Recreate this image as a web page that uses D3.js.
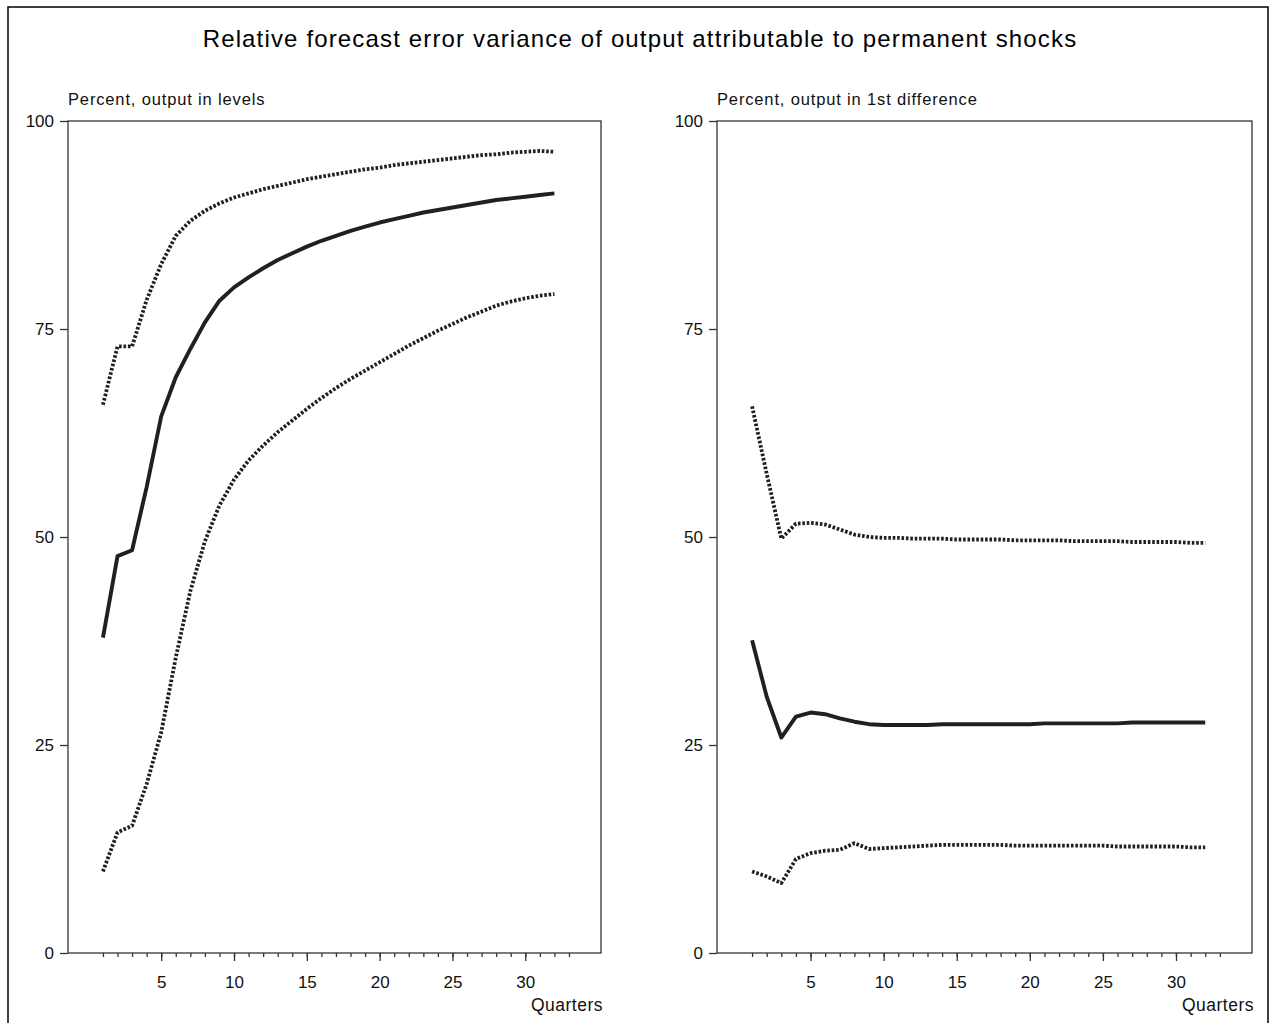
<!DOCTYPE html>
<html>
<head>
<meta charset="utf-8">
<script src="https://cdn.jsdelivr.net/npm/d3@7"></script>
<style>
  body { margin: 0; background: #fff; }
  svg { display: block; font-family: "Liberation Sans", Arial, sans-serif; }
</style>
</head>
<body>
<div id="chart"></div>
<script>
// quarters 1..32
let quarters = d3.range(1, 33);
let majorTicks = [5, 10, 15, 20, 25, 30];
let minorTicks = d3.range(1, 34);
let yTicks = [0, 25, 50, 75, 100];

// output in levels
let levelsMid = [37.9, 47.7, 48.4, 56.0, 64.5, 69.2, 72.6, 75.8, 78.4, 80.0,
    81.2, 82.3, 83.3, 84.1, 84.9, 85.6, 86.2, 86.8, 87.3, 87.8,
    88.2, 88.6, 89.0, 89.3, 89.6, 89.9, 90.2, 90.5, 90.7, 90.9, 91.1, 91.3];
let levelsUpper = [65.9, 72.9, 72.9, 78.5, 82.8, 86.2, 88.0, 89.2, 90.1, 90.8,
    91.3, 91.8, 92.2, 92.6, 93.0, 93.3, 93.6, 93.9, 94.2, 94.4,
    94.7, 94.9, 95.1, 95.3, 95.5, 95.7, 95.9, 96.0, 96.2, 96.3, 96.4, 96.3];
let levelsLower = [9.8, 14.5, 15.3, 20.3, 26.5, 35.5, 43.5, 49.5, 53.8, 56.9,
    59.2, 61.0, 62.6, 64.0, 65.4, 66.7, 67.9, 69.0, 70.0, 71.0,
    72.0, 73.0, 73.9, 74.8, 75.6, 76.4, 77.1, 77.8, 78.3, 78.7, 79.0, 79.2];

// output in 1st difference
let diffMid = [37.6, 30.8, 25.9, 28.4, 28.9, 28.7, 28.2, 27.8, 27.5, 27.4,
    27.4, 27.4, 27.4, 27.5, 27.5, 27.5, 27.5, 27.5, 27.5, 27.5,
    27.6, 27.6, 27.6, 27.6, 27.6, 27.6, 27.7, 27.7, 27.7, 27.7, 27.7, 27.7];
let diffUpper = [65.7, 57.6, 49.8, 51.6, 51.7, 51.5, 50.9, 50.3, 50.0, 49.9,
    49.9, 49.8, 49.8, 49.8, 49.7, 49.7, 49.7, 49.7, 49.6, 49.6,
    49.6, 49.6, 49.5, 49.5, 49.5, 49.5, 49.4, 49.4, 49.4, 49.4, 49.3, 49.3];
let diffLower = [9.8, 9.2, 8.4, 11.3, 12.0, 12.3, 12.4, 13.2, 12.5, 12.6,
    12.7, 12.8, 12.9, 13.0, 13.0, 13.0, 13.0, 13.0, 12.9, 12.9,
    12.9, 12.9, 12.9, 12.9, 12.9, 12.8, 12.8, 12.8, 12.8, 12.8, 12.7, 12.7];

let title = "Relative forecast error variance of output attributable to permanent shocks";

Panel = function(_svg, _left, _right, _subtitle, _series) {
    this.svg = _svg;
    this.left = _left;
    this.right = _right;
    this.subtitle = _subtitle;
    this.series = _series;
    this.initVis();
};

Panel.prototype.initVis = function() {
    let vis = this;
    vis.top = 121;
    vis.bottom = 953;

    vis.x = d3.scaleLinear().domain([-1.4, 35.2]).range([vis.left, vis.right]);
    vis.y = d3.scaleLinear().domain([0, 100]).range([vis.bottom, vis.top]);

    vis.g = vis.svg.append("g");

    vis.g.append("rect")
        .attr("x", vis.left).attr("y", vis.top)
        .attr("width", vis.right - vis.left)
        .attr("height", vis.bottom - vis.top)
        .attr("fill", "none")
        .attr("stroke", "#333")
        .attr("stroke-width", 1.3);

    vis.g.append("text")
        .attr("x", vis.left)
        .attr("y", 105)
        .attr("font-size", 16.5)
        .attr("letter-spacing", 0.85)
        .attr("fill", "#111")
        .text(vis.subtitle);

    // y axis
    let yAxis = d3.axisLeft(vis.y).tickValues(yTicks).tickSize(8).tickPadding(6);
    vis.g.append("g")
        .attr("transform", "translate(" + vis.left + ",0)")
        .call(yAxis)
        .call(g => g.select(".domain").remove())
        .call(g => g.selectAll("line").attr("stroke", "#333").attr("stroke-width", 1.3))
        .call(g => g.selectAll("text").attr("font-size", 17).attr("fill", "#111")
            .attr("font-family", "Liberation Sans, Arial, sans-serif"));

    // minor ticks every quarter
    let minorAxis = d3.axisBottom(vis.x).tickValues(minorTicks).tickSize(4).tickFormat("");
    vis.g.append("g")
        .attr("transform", "translate(0," + vis.bottom + ")")
        .call(minorAxis)
        .call(g => g.select(".domain").remove())
        .call(g => g.selectAll("line").attr("stroke", "#333").attr("stroke-width", 1.3));

    let majorAxis = d3.axisBottom(vis.x).tickValues(majorTicks).tickSize(8).tickPadding(15);
    vis.g.append("g")
        .attr("transform", "translate(0," + vis.bottom + ")")
        .call(majorAxis)
        .call(g => g.select(".domain").remove())
        .call(g => g.selectAll("line").attr("stroke", "#333").attr("stroke-width", 1.3))
        .call(g => g.selectAll("text").attr("font-size", 17).attr("fill", "#111")
            .attr("font-family", "Liberation Sans, Arial, sans-serif"));

    vis.g.append("text")
        .attr("x", vis.right + 2)
        .attr("y", 1011)
        .attr("text-anchor", "end")
        .attr("font-size", 17.5)
        .attr("letter-spacing", 0.5)
        .attr("fill", "#111")
        .text("Quarters");

    vis.updateVis();
};

Panel.prototype.updateVis = function() {
    let vis = this;

    let line = d3.line()
        .x((d, i) => vis.x(quarters[i]))
        .y(d => vis.y(d));

    vis.g.selectAll("path.series")
        .data(vis.series)
        .enter()
        .append("path")
        .attr("class", "series")
        .attr("d", d => line(d.values))
        .attr("fill", "none")
        .attr("stroke", "#231f20")
        .attr("stroke-width", d => d.dotted ? 3.8 : 3.9)
        .attr("stroke-dasharray", d => d.dotted ? "2.6,1.8" : null)
        .attr("stroke-linejoin", "round");
};

let svg = d3.select("#chart").append("svg")
    .attr("width", 1271)
    .attr("height", 1023);

svg.append("rect")
    .attr("x", 8).attr("y", 7)
    .attr("width", 1260).attr("height", 1040)
    .attr("fill", "none")
    .attr("stroke", "#000")
    .attr("stroke-width", 1.5);

svg.append("text")
    .attr("x", 640)
    .attr("y", 47)
    .attr("text-anchor", "middle")
    .attr("font-size", 24)
    .attr("letter-spacing", 1.15)
    .attr("fill", "#000")
    .text(title);

new Panel(svg, 68, 601, "Percent, output in levels", [
    { values: levelsUpper, dotted: true },
    { values: levelsMid, dotted: false },
    { values: levelsLower, dotted: true }
]);

new Panel(svg, 717, 1252, "Percent, output in 1st difference", [
    { values: diffUpper, dotted: true },
    { values: diffMid, dotted: false },
    { values: diffLower, dotted: true }
]);
</script>
</body>
</html>
